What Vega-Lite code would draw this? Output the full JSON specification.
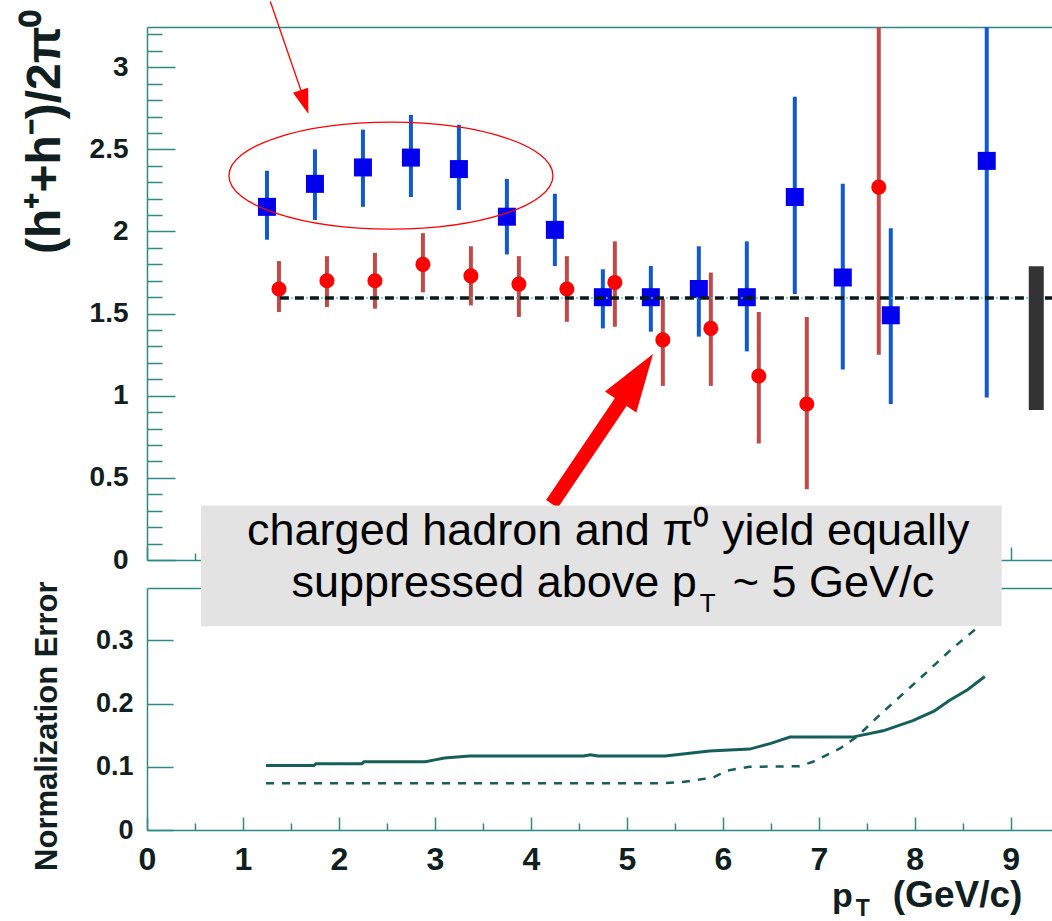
{
  "$schema": "https://vega.github.io/schema/vega-lite/v6.json",
  "background": "white",
  "padding": {"left": 20, "top": 0, "right": 0, "bottom": 0},
  "bounds": "flush",
  "spacing": 28,
  "config": {
    "view": {"stroke": null},
    "axis": {"labelFont": "Liberation Sans", "labelFontWeight": "bold", "labelColor": "#102020", "titleFont": "Liberation Sans", "titleFontWeight": "bold", "titleColor": "#102020", "domainColor": "#2b8a86", "tickColor": "#2b8a86", "domainWidth": 1.5, "tickWidth": 1.5, "grid": false, "labelFlush": false, "labelOverlap": false},
    "text": {"font": "Liberation Sans"}
  },
  "datasets": {
    "blue": [
      {"pt": 1.25, "val": 2.15, "lo": 1.95, "hi": 2.37},
      {"pt": 1.75, "val": 2.29, "lo": 2.07, "hi": 2.50},
      {"pt": 2.25, "val": 2.39, "lo": 2.15, "hi": 2.62},
      {"pt": 2.75, "val": 2.45, "lo": 2.21, "hi": 2.71},
      {"pt": 3.25, "val": 2.38, "lo": 2.13, "hi": 2.65},
      {"pt": 3.75, "val": 2.09, "lo": 1.86, "hi": 2.32},
      {"pt": 4.25, "val": 2.01, "lo": 1.79, "hi": 2.23},
      {"pt": 4.75, "val": 1.60, "lo": 1.41, "hi": 1.77},
      {"pt": 5.25, "val": 1.60, "lo": 1.39, "hi": 1.79},
      {"pt": 5.75, "val": 1.65, "lo": 1.36, "hi": 1.91},
      {"pt": 6.25, "val": 1.60, "lo": 1.27, "hi": 1.94},
      {"pt": 6.75, "val": 2.21, "lo": 1.62, "hi": 2.82},
      {"pt": 7.25, "val": 1.72, "lo": 1.16, "hi": 2.29},
      {"pt": 7.75, "val": 1.49, "lo": 0.95, "hi": 2.02},
      {"pt": 8.75, "val": 2.43, "lo": 0.99, "hi": 3.6}
    ],
    "red": [
      {"pt": 1.375, "val": 1.65, "lo": 1.51, "hi": 1.82},
      {"pt": 1.875, "val": 1.70, "lo": 1.54, "hi": 1.85},
      {"pt": 2.375, "val": 1.70, "lo": 1.53, "hi": 1.87},
      {"pt": 2.875, "val": 1.80, "lo": 1.63, "hi": 1.99},
      {"pt": 3.375, "val": 1.73, "lo": 1.55, "hi": 1.91},
      {"pt": 3.875, "val": 1.68, "lo": 1.48, "hi": 1.85},
      {"pt": 4.375, "val": 1.65, "lo": 1.45, "hi": 1.85},
      {"pt": 4.875, "val": 1.69, "lo": 1.42, "hi": 1.94},
      {"pt": 5.375, "val": 1.34, "lo": 1.06, "hi": 1.59},
      {"pt": 5.875, "val": 1.41, "lo": 1.06, "hi": 1.75},
      {"pt": 6.375, "val": 1.12, "lo": 0.71, "hi": 1.51},
      {"pt": 6.875, "val": 0.95, "lo": 0.43, "hi": 1.48},
      {"pt": 7.625, "val": 2.27, "lo": 1.25, "hi": 3.6}
    ],
    "refLine": [
      {"pt": 1.385, "v": 1.595},
      {"pt": 9.43, "v": 1.595}
    ],
    "solid": [
      {"pt": 1.24, "err": 0.102}, {"pt": 1.74, "err": 0.102}, {"pt": 1.76, "err": 0.105},
      {"pt": 2.24, "err": 0.105}, {"pt": 2.26, "err": 0.108}, {"pt": 2.9, "err": 0.108},
      {"pt": 3.0, "err": 0.111}, {"pt": 3.1, "err": 0.114}, {"pt": 3.36, "err": 0.117},
      {"pt": 4.55, "err": 0.117}, {"pt": 4.62, "err": 0.119}, {"pt": 4.7, "err": 0.117},
      {"pt": 5.4, "err": 0.117}, {"pt": 5.86, "err": 0.125}, {"pt": 6.28, "err": 0.128},
      {"pt": 6.5, "err": 0.137}, {"pt": 6.7, "err": 0.147}, {"pt": 7.35, "err": 0.147},
      {"pt": 7.67, "err": 0.157}, {"pt": 7.98, "err": 0.173}, {"pt": 8.2, "err": 0.188},
      {"pt": 8.36, "err": 0.205}, {"pt": 8.55, "err": 0.222}, {"pt": 8.73, "err": 0.243}
    ],
    "dashed": [
      {"pt": 1.24, "err": 0.074}, {"pt": 5.34, "err": 0.074}, {"pt": 5.58, "err": 0.076},
      {"pt": 5.9, "err": 0.083}, {"pt": 6.04, "err": 0.094}, {"pt": 6.28, "err": 0.1},
      {"pt": 6.8, "err": 0.101}, {"pt": 6.94, "err": 0.108}, {"pt": 7.22, "err": 0.129},
      {"pt": 7.4, "err": 0.148}, {"pt": 7.67, "err": 0.187}, {"pt": 8.02, "err": 0.235},
      {"pt": 8.36, "err": 0.283}, {"pt": 8.68, "err": 0.324}, {"pt": 8.75, "err": 0.333}
    ]
  },
  "resolve": {"scale": {"x": "independent", "y": "independent"}},
  "vconcat": [
    {
      "width": 905,
      "height": 533,
      "resolve": {"axis": {"x": "independent"}},
      "layer": [
        {
          "data": {"name": "blue"},
          "mark": {"type": "rule", "color": "#1258d6", "strokeWidth": 4, "clip": true},
          "encoding": {
            "x": {"field": "pt", "type": "quantitative", "scale": {"domain": [0, 9.43], "nice": false, "zero": false},
              "axis": {"orient": "bottom", "values": [0,0.5,1,1.5,2,2.5,3,3.5,4,4.5,5,5.5,6,6.5,7,7.5,8,8.5,9], "tickCount": 100, "labels": false, "title": null,
                "tickSize": {"condition": {"test": "datum.value % 1 == 0", "value": -13}, "value": -7}}},
            "y": {"field": "lo", "type": "quantitative", "scale": {"domain": [0, 3.245], "nice": false, "zero": false},
              "axis": {"values": [0,0.1,0.2,0.3,0.4,0.5,0.6,0.7,0.8,0.9,1,1.1,1.2,1.3,1.4,1.5,1.6,1.7,1.8,1.9,2,2.1,2.2,2.3,2.4,2.5,2.6,2.7,2.8,2.9,3,3.1,3.2], "tickCount": 100,
                "labelExpr": "abs(datum.value*2-round(datum.value*2))<0.001 ? format(datum.value,'~g') : ''",
                "tickSize": {"condition": {"test": "abs(datum.value*2-round(datum.value*2))<0.001", "value": -28}, "value": -15},
                "labelPadding": 47, "labelFontSize": 28,
                "title": "(h⁺+h⁻)/2π⁰", "titleFontSize": 48, "titleAngle": -90, "titleAlign": "right", "titleBaseline": "middle", "titleX": -102, "titleY": -18}},
            "y2": {"field": "hi"}
          }
        },
        {
          "data": {"name": "red"},
          "mark": {"type": "rule", "color": "#c24a46", "strokeWidth": 4, "clip": true},
          "encoding": {
            "x": {"field": "pt", "type": "quantitative", "scale": {"domain": [0, 9.43], "nice": false, "zero": false}, "axis": null},
            "y": {"field": "lo", "type": "quantitative", "scale": {"domain": [0, 3.245], "nice": false, "zero": false}},
            "y2": {"field": "hi"}
          }
        },
        {
          "data": {"name": "blue"},
          "mark": {"type": "point", "shape": "square", "filled": true, "size": 324, "color": "#0000ee", "opacity": 1},
          "encoding": {
            "x": {"field": "pt", "type": "quantitative", "scale": {"domain": [0, 9.43], "nice": false, "zero": false}, "axis": null},
            "y": {"field": "val", "type": "quantitative", "scale": {"domain": [0, 3.245], "nice": false, "zero": false}}
          }
        },
        {
          "data": {"name": "red"},
          "mark": {"type": "point", "shape": "circle", "filled": true, "size": 227, "color": "#ff0000", "opacity": 1},
          "encoding": {
            "x": {"field": "pt", "type": "quantitative", "scale": {"domain": [0, 9.43], "nice": false, "zero": false}, "axis": null},
            "y": {"field": "val", "type": "quantitative", "scale": {"domain": [0, 3.245], "nice": false, "zero": false}}
          }
        },
        {
          "data": {"name": "refLine"},
          "mark": {"type": "line", "color": "#0a1a1a", "strokeWidth": 3.5, "strokeDash": [9, 6]},
          "encoding": {
            "x": {"field": "pt", "type": "quantitative", "scale": {"domain": [0, 9.43], "nice": false, "zero": false}, "axis": null},
            "y": {"field": "v", "type": "quantitative", "scale": {"domain": [0, 3.245], "nice": false, "zero": false}}
          }
        },
        {
          "data": {"name": "refLine"},
          "mark": {"type": "line", "color": "#35d0d0", "strokeWidth": 1.5, "strokeDash": [2, 13], "strokeDashOffset": 4},
          "encoding": {
            "x": {"field": "pt", "type": "quantitative", "scale": {"domain": [0, 9.43], "nice": false, "zero": false}, "axis": null},
            "y": {"field": "v", "type": "quantitative", "scale": {"domain": [0, 3.245], "nice": false, "zero": false}}
          }
        },
        {
          "data": {"values": [{"x": 9.266, "lo": 0.913, "hi": 1.789}]},
          "mark": {"type": "rule", "color": "#333333", "strokeWidth": 15, "strokeCap": "butt"},
          "encoding": {
            "x": {"field": "x", "type": "quantitative", "scale": {"domain": [0, 9.43], "nice": false, "zero": false}, "axis": null},
            "y": {"field": "lo", "type": "quantitative", "scale": {"domain": [0, 3.245], "nice": false, "zero": false}},
            "y2": {"field": "hi"}
          }
        },
        {
          "data": {"values": [{"x": 2.542, "y": 2.340}]},
          "mark": {"type": "point", "shape": "M -1 0 C -1 -0.1823 -0.5523 -0.33 0 -0.33 C 0.5523 -0.33 1 -0.1823 1 0 C 1 0.1823 0.5523 0.33 0 0.33 C -0.5523 0.33 -1 0.1823 -1 0 Z", "filled": false, "size": 104976, "color": "#ff0000", "strokeWidth": 1.3, "opacity": 1},
          "encoding": {
            "x": {"field": "x", "type": "quantitative", "scale": {"domain": [0, 9.43], "nice": false, "zero": false},
              "axis": {"orient": "top", "labels": false, "ticks": false, "title": null}},
            "y": {"field": "y", "type": "quantitative", "scale": {"domain": [0, 3.245], "nice": false, "zero": false}}
          }
        },
        {
          "data": {"values": [{"x": 1.285, "y": 3.400, "x2": 1.615, "y2": 2.84}]},
          "mark": {"type": "rule", "color": "#ff0000", "strokeWidth": 1.3},
          "encoding": {
            "x": {"field": "x", "type": "quantitative", "scale": {"domain": [0, 9.43], "nice": false, "zero": false}, "axis": null},
            "y": {"field": "y", "type": "quantitative", "scale": {"domain": [0, 3.245], "nice": false, "zero": false}},
            "x2": {"field": "x2"},
            "y2": {"field": "y2"}
          }
        },
        {
          "data": {"values": [{"x": 1.641, "y": 2.788}]},
          "mark": {"type": "point", "shape": "M0,-1L0.64,1L-0.64,1Z", "filled": true, "size": 625, "angle": 161.7, "color": "#ff0000", "opacity": 1},
          "encoding": {
            "x": {"field": "x", "type": "quantitative", "scale": {"domain": [0, 9.43], "nice": false, "zero": false}, "axis": null},
            "y": {"field": "y", "type": "quantitative", "scale": {"domain": [0, 3.245], "nice": false, "zero": false}}
          }
        },
        {
          "data": {"values": [{"x": 4.219, "y": 0.341, "x2": 4.958, "y2": 0.980}]},
          "mark": {"type": "rule", "color": "#ff0000", "strokeWidth": 14, "strokeCap": "butt"},
          "encoding": {
            "x": {"field": "x", "type": "quantitative", "scale": {"domain": [0, 9.43], "nice": false, "zero": false}, "axis": null},
            "y": {"field": "y", "type": "quantitative", "scale": {"domain": [0, 3.245], "nice": false, "zero": false}},
            "x2": {"field": "x2"},
            "y2": {"field": "y2"}
          }
        },
        {
          "data": {"values": [{"x": 5.104, "y": 1.108}]},
          "mark": {"type": "point", "shape": "M0,-1L0.65,1L-0.65,1Z", "filled": true, "size": 3364, "angle": 33.9, "color": "#ff0000", "opacity": 1},
          "encoding": {
            "x": {"field": "x", "type": "quantitative", "scale": {"domain": [0, 9.43], "nice": false, "zero": false}, "axis": null},
            "y": {"field": "y", "type": "quantitative", "scale": {"domain": [0, 3.245], "nice": false, "zero": false}}
          }
        }
      ]
    },
    {
      "width": 905,
      "height": 242,
      "resolve": {"axis": {"x": "independent"}},
      "layer": [
        {
          "data": {"name": "solid"},
          "mark": {"type": "line", "color": "#155f5a", "strokeWidth": 3},
          "encoding": {
            "x": {"field": "pt", "type": "quantitative", "scale": {"domain": [0, 9.43], "nice": false, "zero": false},
              "axis": {"orient": "bottom", "values": [0,0.5,1,1.5,2,2.5,3,3.5,4,4.5,5,5.5,6,6.5,7,7.5,8,8.5,9], "tickCount": 100,
                "labelExpr": "datum.value % 1 == 0 ? format(datum.value,'d') : ''",
                "tickSize": {"condition": {"test": "datum.value % 1 == 0", "value": -13}, "value": -7},
                "labelPadding": 27, "labelFontSize": 32, "title": null}},
            "y": {"field": "err", "type": "quantitative", "scale": {"domain": [0, 0.383], "nice": false, "zero": false},
              "axis": {"values": [0, 0.1, 0.2, 0.3], "tickCount": 100, "labelExpr": "format(datum.value,'~g')", "tickSize": -26, "labelPadding": 40, "labelFontSize": 27,
                "title": "Normalization Error", "titleFontSize": 31, "titleAngle": -90, "titleAlign": "right", "titleBaseline": "middle", "titleX": -100, "titleY": -7}}
          }
        },
        {
          "data": {"name": "dashed"},
          "mark": {"type": "line", "color": "#155f5a", "strokeWidth": 2.5, "strokeDash": [8, 8]},
          "encoding": {
            "x": {"field": "pt", "type": "quantitative", "scale": {"domain": [0, 9.43], "nice": false, "zero": false}, "axis": null},
            "y": {"field": "err", "type": "quantitative", "scale": {"domain": [0, 0.383], "nice": false, "zero": false}}
          }
        },
        {
          "data": {"values": [{"x": 0.5625, "x2": 8.906, "y": 0.5134, "y2": 0.3223}]},
          "mark": {"type": "rect", "color": "#e3e3e3"},
          "encoding": {
            "x": {"field": "x", "type": "quantitative", "scale": {"domain": [0, 9.43], "nice": false, "zero": false},
              "axis": {"orient": "top", "labels": false, "ticks": false, "title": null}},
            "x2": {"field": "x2"},
            "y": {"field": "y", "type": "quantitative", "scale": {"domain": [0, 0.383], "nice": false, "zero": false}},
            "y2": {"field": "y2"}
          }
        },
        {
          "data": {"values": [{"x": 4.807, "y": 0.4518, "label": "charged hadron and π⁰ yield equally"}]},
          "mark": {"type": "text", "fontSize": 45, "align": "center", "baseline": "alphabetic", "color": "#000000"},
          "encoding": {
            "x": {"field": "x", "type": "quantitative", "scale": {"domain": [0, 9.43], "nice": false, "zero": false}, "axis": null},
            "y": {"field": "y", "type": "quantitative", "scale": {"domain": [0, 0.383], "nice": false, "zero": false}},
            "text": {"field": "label"}
          }
        },
        {
          "data": {"values": [{"x": 5.729, "y": 0.3681, "label": "suppressed above p"}]},
          "mark": {"type": "text", "fontSize": 45, "align": "right", "baseline": "alphabetic", "color": "#000000"},
          "encoding": {
            "x": {"field": "x", "type": "quantitative", "scale": {"domain": [0, 9.43], "nice": false, "zero": false}, "axis": null},
            "y": {"field": "y", "type": "quantitative", "scale": {"domain": [0, 0.383], "nice": false, "zero": false}},
            "text": {"field": "label"}
          }
        },
        {
          "data": {"values": [{"x": 5.76, "y": 0.3444, "label": "T"}]},
          "mark": {"type": "text", "fontSize": 26, "align": "left", "baseline": "alphabetic", "color": "#000000"},
          "encoding": {
            "x": {"field": "x", "type": "quantitative", "scale": {"domain": [0, 9.43], "nice": false, "zero": false}, "axis": null},
            "y": {"field": "y", "type": "quantitative", "scale": {"domain": [0, 0.383], "nice": false, "zero": false}},
            "text": {"field": "label"}
          }
        },
        {
          "data": {"values": [{"x": 6.104, "y": 0.3681, "label": "~ 5 GeV/c"}]},
          "mark": {"type": "text", "fontSize": 45, "align": "left", "baseline": "alphabetic", "color": "#000000"},
          "encoding": {
            "x": {"field": "x", "type": "quantitative", "scale": {"domain": [0, 9.43], "nice": false, "zero": false}, "axis": null},
            "y": {"field": "y", "type": "quantitative", "scale": {"domain": [0, 0.383], "nice": false, "zero": false}},
            "text": {"field": "label"}
          }
        },
        {
          "data": {"values": [{"x": 7.354, "y": -0.1216, "label": "p"}]},
          "mark": {"type": "text", "fontSize": 34, "fontWeight": "bold", "align": "right", "baseline": "alphabetic", "color": "#102020"},
          "encoding": {
            "x": {"field": "x", "type": "quantitative", "scale": {"domain": [0, 9.43], "nice": false, "zero": false}, "axis": null},
            "y": {"field": "y", "type": "quantitative", "scale": {"domain": [0, 0.383], "nice": false, "zero": false}},
            "text": {"field": "label"}
          }
        },
        {
          "data": {"values": [{"x": 7.385, "y": -0.1359, "label": "T"}]},
          "mark": {"type": "text", "fontSize": 23, "fontWeight": "bold", "align": "left", "baseline": "alphabetic", "color": "#102020"},
          "encoding": {
            "x": {"field": "x", "type": "quantitative", "scale": {"domain": [0, 9.43], "nice": false, "zero": false}, "axis": null},
            "y": {"field": "y", "type": "quantitative", "scale": {"domain": [0, 0.383], "nice": false, "zero": false}},
            "text": {"field": "label"}
          }
        },
        {
          "data": {"values": [{"x": 7.771, "y": -0.1216, "label": "(GeV/c)"}]},
          "mark": {"type": "text", "fontSize": 37, "fontWeight": "bold", "align": "left", "baseline": "alphabetic", "color": "#102020"},
          "encoding": {
            "x": {"field": "x", "type": "quantitative", "scale": {"domain": [0, 9.43], "nice": false, "zero": false}, "axis": null},
            "y": {"field": "y", "type": "quantitative", "scale": {"domain": [0, 0.383], "nice": false, "zero": false}},
            "text": {"field": "label"}
          }
        }
      ]
    }
  ]
}
